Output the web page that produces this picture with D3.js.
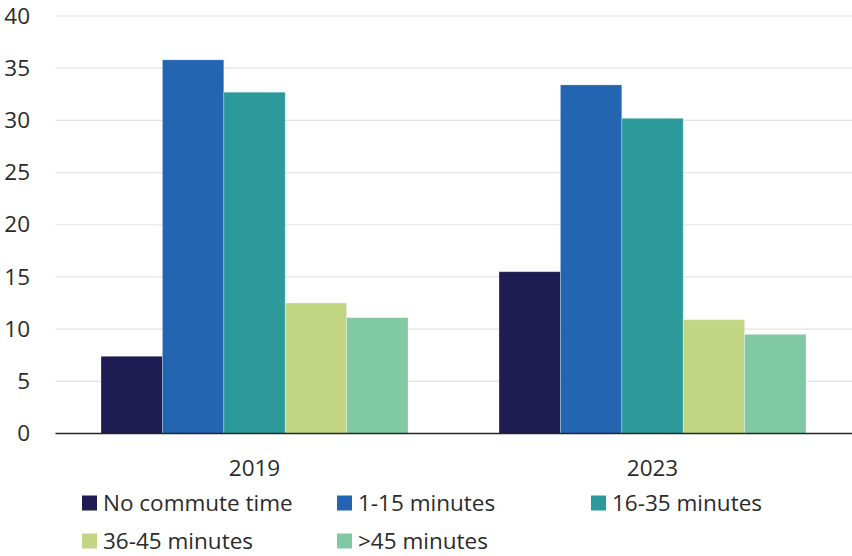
<!DOCTYPE html>
<html>
<head>
<meta charset="utf-8">
<script src="https://cdn.jsdelivr.net/npm/d3@7"></script>
<style>
  html, body { margin: 0; padding: 0; background: #fff; }
  svg { display: block; font-family: "Open Sans", "Noto Sans", sans-serif; }
</style>
</head>
<body>
<svg id="chart" width="852" height="556"></svg>
<script>
// Share of workers by commute time, by year
const years = ["2019", "2023"];
const seriesNames = ["No commute time", "1-15 minutes", "16-35 minutes", "36-45 minutes", ">45 minutes"];
const seriesColors = ["#1e1c52", "#2365b0", "#2c9a9a", "#c1d583", "#80c9a3"];
const values2019 = [7.4, 35.8, 32.7, 12.5, 11.1];
const values2023 = [15.5, 33.4, 30.2, 10.9, 9.5];
const yTicks = [0, 5, 10, 15, 20, 25, 30, 35, 40];

const valuesByYear = { "2019": values2019, "2023": values2023 };

const FONT_SIZE = "22.5px";
const TEXT_COLOR = "#2b2b2b";

const svg = d3.select("#chart");
const margin = { left: 55.5, right: 0.5, top: 16, bottom: 122.5 };
const W = 852, H = 556;
const plotBottom = H - margin.bottom;

const x0 = d3.scaleBand()
  .domain(years)
  .range([margin.left, W - margin.right])
  .paddingInner(0.2286)
  .paddingOuter(0.1143);

const x1 = d3.scaleBand()
  .domain(seriesNames)
  .range([0, x0.bandwidth()])
  .padding(0);

const y = d3.scaleLinear()
  .domain([0, 40])
  .range([plotBottom, margin.top]);

const color = d3.scaleOrdinal().domain(seriesNames).range(seriesColors);

// Horizontal gridlines
svg.append("g")
  .selectAll("line")
  .data(yTicks.filter(t => t > 0))
  .join("line")
  .attr("x1", margin.left)
  .attr("x2", W)
  .attr("y1", d => y(d))
  .attr("y2", d => y(d))
  .attr("stroke", "#e3e3e3")
  .attr("stroke-width", 1.2);

// Y axis labels
const yAxis = d3.axisLeft(y).tickValues(yTicks).tickSize(0).tickPadding(0);
const yg = svg.append("g")
  .attr("transform", `translate(${30},0)`)
  .call(yAxis);
yg.select(".domain").remove();
yg.selectAll("text")
  .attr("fill", TEXT_COLOR)
  .style("font-size", FONT_SIZE)
  .style("font-family", "'Open Sans', 'Noto Sans', sans-serif");

// Bars
const groups = svg.append("g")
  .selectAll("g")
  .data(years)
  .join("g")
  .attr("transform", d => `translate(${x0(d)},0)`);

groups.selectAll("rect")
  .data(yr => seriesNames.map((s, i) => ({ series: s, value: valuesByYear[yr][i] })))
  .join("rect")
  .attr("x", d => x1(d.series))
  .attr("width", x1.bandwidth())
  .attr("y", d => y(d.value))
  .attr("height", d => y(0) - y(d.value))
  .attr("fill", d => color(d.series))
  .attr("stroke", "rgba(255,255,255,0.35)")
  .attr("stroke-width", 0.8);

// Baseline and category axis
const xAxis = d3.axisBottom(x0).tickSize(0).tickPadding(0);
const xg = svg.append("g")
  .attr("transform", `translate(0,${plotBottom})`)
  .call(xAxis);
xg.select(".domain").remove();
xg.selectAll("text")
  .attr("dy", "0")
  .attr("y", 42)
  .attr("fill", TEXT_COLOR)
  .style("font-size", FONT_SIZE)
  .style("font-family", "'Open Sans', 'Noto Sans', sans-serif");

svg.append("line")
  .attr("x1", margin.left)
  .attr("x2", W)
  .attr("y1", plotBottom)
  .attr("y2", plotBottom)
  .attr("stroke", "#262626")
  .attr("stroke-width", 1.6);

// Legend: three items per row
const legendCols = [82, 337, 591];
const legendRows = [503, 541];
const legend = svg.append("g")
  .selectAll("g")
  .data(seriesNames)
  .join("g")
  .attr("transform", (d, i) => `translate(${legendCols[i % 3]},${legendRows[Math.floor(i / 3)]})`);

legend.append("rect")
  .attr("x", 0)
  .attr("y", -7.5)
  .attr("width", 15)
  .attr("height", 15)
  .attr("fill", d => color(d));

legend.append("text")
  .attr("x", 21)
  .attr("y", 0)
  .attr("dy", "0.35em")
  .attr("fill", TEXT_COLOR)
  .style("font-size", FONT_SIZE)
  .text(d => d);
</script>
</body>
</html>
